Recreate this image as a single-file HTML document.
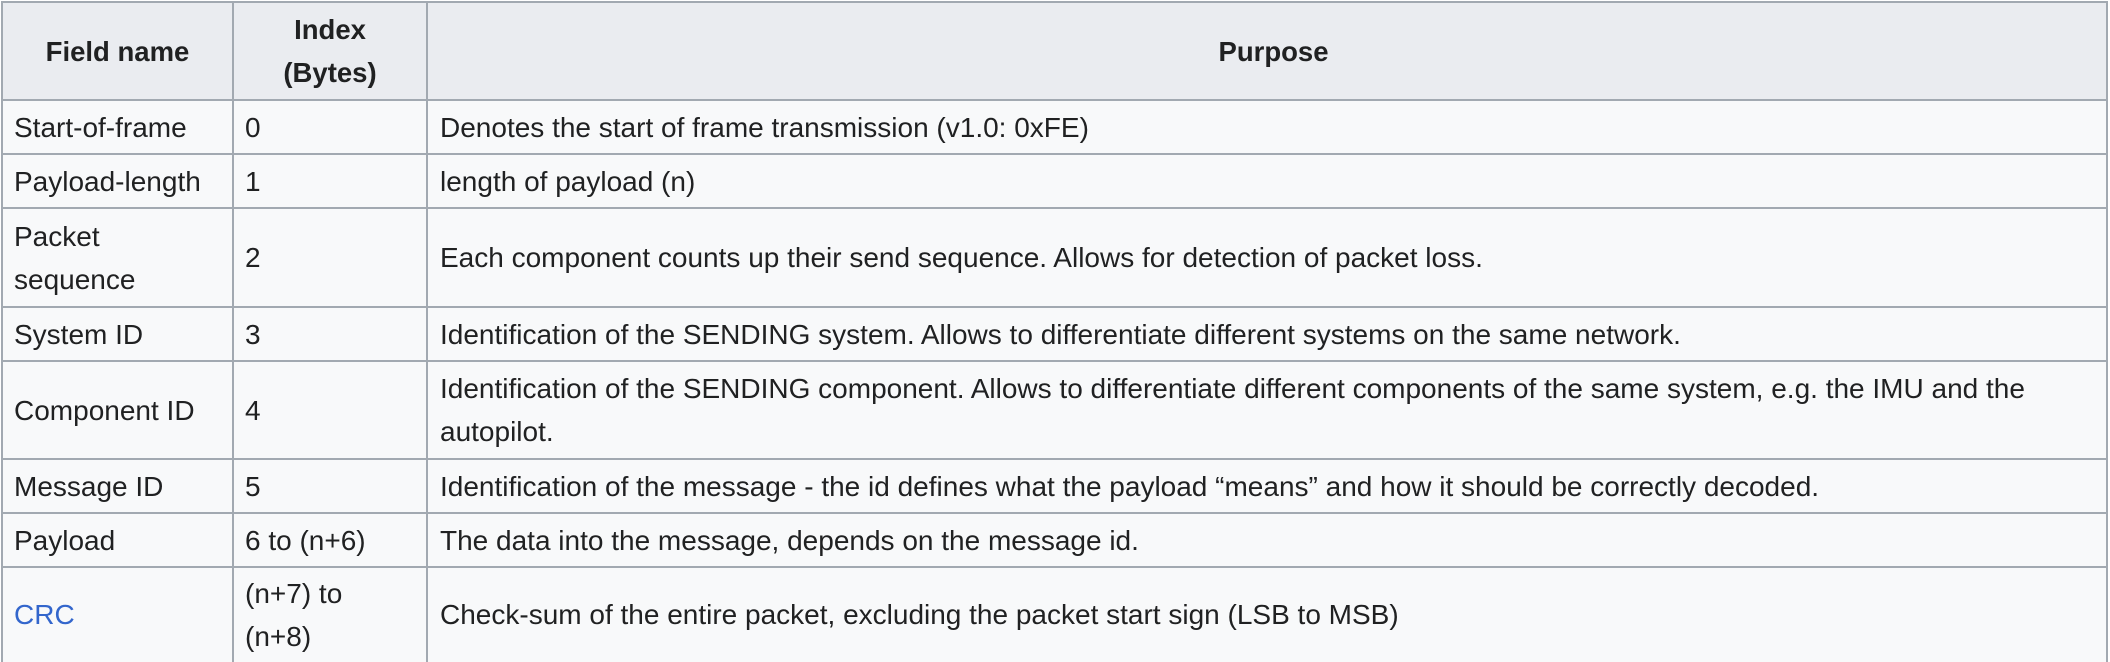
<!DOCTYPE html>
<html><head><meta charset="utf-8">
<style>
html,body{margin:0;padding:0;background:#fff;width:2110px;height:662px;overflow:hidden;position:relative}
.c{position:absolute;box-sizing:border-box;font-family:"Liberation Sans",Arial,sans-serif;font-size:28px;color:#202122;background:#f8f9fa;display:flex;align-items:center;padding-left:12px;line-height:43px;white-space:nowrap;overflow:hidden}
.h{background:#eaecf0;font-weight:bold;font-size:27.5px;justify-content:center;text-align:center;padding-left:0}
.a{left:2px;width:231px}.b{left:233px;width:194px}.p{left:427px;width:1680px;padding-left:13px}
.hl{position:absolute;background:#a2a9b1;left:1px;width:2107px;height:2px}
.vl{position:absolute;background:#a2a9b1;top:1px;width:2px;height:661px}
a{color:#3366cc;text-decoration:none}
</style></head><body>
<div class="c h a" style="top:2px;height:98px">Field name</div>
<div class="c h b" style="top:2px;height:98px"><div>Index<br>(Bytes)</div></div>
<div class="c h p" style="top:2px;height:98px">Purpose</div>

<div class="c a" style="top:100px;height:54px">Start-of-frame</div>
<div class="c b" style="top:100px;height:54px">0</div>
<div class="c p" style="top:100px;height:54px"><div>Denotes the start of frame transmission (v1.0: 0xFE)</div></div>

<div class="c a" style="top:154px;height:54px">Payload-length</div>
<div class="c b" style="top:154px;height:54px">1</div>
<div class="c p" style="top:154px;height:54px"><div>length of payload (n)</div></div>

<div class="c a" style="top:208px;height:99px"><div>Packet<br>sequence</div></div>
<div class="c b" style="top:208px;height:99px">2</div>
<div class="c p" style="top:208px;height:99px"><div>Each component counts up their send sequence. Allows for detection of packet loss.</div></div>

<div class="c a" style="top:307px;height:54px">System ID</div>
<div class="c b" style="top:307px;height:54px">3</div>
<div class="c p" style="top:307px;height:54px"><div>Identification of the SENDING system. Allows to differentiate different systems on the same network.</div></div>

<div class="c a" style="top:361px;height:98px">Component ID</div>
<div class="c b" style="top:361px;height:98px">4</div>
<div class="c p" style="top:361px;height:98px"><div>Identification of the SENDING component. Allows to differentiate different components of the same system, e.g. the IMU and the<br>autopilot.</div></div>

<div class="c a" style="top:459px;height:54px">Message ID</div>
<div class="c b" style="top:459px;height:54px">5</div>
<div class="c p" style="top:459px;height:54px"><div>Identification of the message - the id defines what the payload “means” and how it should be correctly decoded.</div></div>

<div class="c a" style="top:513px;height:54px">Payload</div>
<div class="c b" style="top:513px;height:54px">6 to (n+6)</div>
<div class="c p" style="top:513px;height:54px"><div>The data into the message, depends on the message id.</div></div>

<div class="c a" style="top:567px;height:95px"><a>CRC</a></div>
<div class="c b" style="top:567px;height:95px"><div>(n+7) to<br>(n+8)</div></div>
<div class="c p" style="top:567px;height:95px"><div>Check-sum of the entire packet, excluding the packet start sign (LSB to MSB)</div></div>

<div class="hl" style="top:1px"></div>
<div class="hl" style="top:99px"></div>
<div class="hl" style="top:153px"></div>
<div class="hl" style="top:207px"></div>
<div class="hl" style="top:306px"></div>
<div class="hl" style="top:360px"></div>
<div class="hl" style="top:458px"></div>
<div class="hl" style="top:512px"></div>
<div class="hl" style="top:566px"></div>
<div class="vl" style="left:1px"></div>
<div class="vl" style="left:232px"></div>
<div class="vl" style="left:426px"></div>
<div class="vl" style="left:2106px"></div>
</body></html>
